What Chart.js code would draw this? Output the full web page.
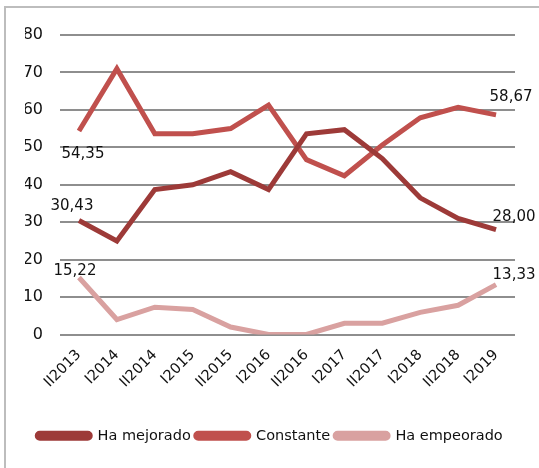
<!DOCTYPE html>
<html>
<head>
<meta charset="utf-8">
<script src="https://cdn.jsdelivr.net/npm/chart.js@4.4.1/dist/chart.umd.min.js"></script>
<style>
  html, body { margin: 0; padding: 0; background: #fff; overflow: hidden; }
  #wrap { position: relative; width: 539px; height: 468px; }
  #frame { position: absolute; left: 4px; top: 6px; width: 600px; height: 500px; border: 2px solid #bdbdbd; box-sizing: border-box; }
  canvas { position: absolute; left: 0; top: 0; }
</style>
</head>
<body>
<div id="wrap">
  <div id="frame"></div>
  <canvas id="chart" width="539" height="468"></canvas>
</div>
<script>
const periods = ['II2013', 'I2014', 'II2014', 'I2015', 'II2015', 'I2016', 'II2016', 'I2017', 'II2017', 'I2018', 'II2018', 'I2019'];
const mejorado = [30.43, 25.0, 38.7, 40.0, 43.5, 38.7, 53.6, 54.7, 47.0, 36.5, 31.0, 28.00];
const constante = [54.35, 71.0, 53.6, 53.6, 55.0, 61.3, 46.7, 42.4, 50.6, 57.9, 60.7, 58.67];
const empeorado = [15.22, 4.0, 7.3, 6.7, 2.0, 0.0, 0.0, 3.0, 3.0, 5.9, 7.8, 13.33];
const yTicks = [0, 10, 20, 30, 40, 50, 60, 70, 80];

const FONT = "'DejaVu Sans', sans-serif";

// first / last value labels, offsets in px from the point
const labelOffsets = [
    { first: [-7, -14], last: [18, -13] },
    { first: [4, 23], last: [15, -18] },
    { first: [-4, -6], last: [18, -9] }
];

const endLabels = {
    id: 'endLabels',
    afterDatasetsDraw(chart) {
        const ctx = chart.ctx;
        ctx.save();
        ctx.font = '15px ' + FONT;
        ctx.fillStyle = '#111';
        ctx.textAlign = 'center';
        ctx.textBaseline = 'middle';
        chart.data.datasets.forEach((ds, i) => {
            const pts = chart.getDatasetMeta(i).data;
            const n = ds.data.length - 1;
            const off = labelOffsets[i];
            const fmt = v => v.toFixed(2).replace('.', ',');
            ctx.fillText(fmt(ds.data[0]), pts[0].x + off.first[0], pts[0].y + off.first[1]);
            ctx.fillText(fmt(ds.data[n]), pts[n].x + off.last[0], pts[n].y + off.last[1]);
        });
        ctx.restore();
    }
};

function line(label, data, color) {
    return {
        label: label,
        data: data,
        borderColor: color,
        backgroundColor: color,
        borderWidth: 5,
        pointRadius: 0,
        fill: false,
        tension: 0
    };
}

new Chart(document.getElementById('chart'), {
    type: 'line',
    data: {
        labels: periods,
        datasets: [
            line('Ha mejorado', mejorado, '#9d3a38'),
            line('Constante', constante, '#c0504d'),
            line('Ha empeorado', empeorado, '#d9a1a0')
        ]
    },
    options: {
        responsive: false,
        animation: false,
        layout: { padding: { left: 25, right: 24, top: 35, bottom: 15 } },
        plugins: {
            tooltip: { enabled: false },
            legend: {
                position: 'bottom',
                labels: {
                    color: '#111',
                    font: { family: FONT, size: 14.5 },
                    boxWidth: 53,
                    boxHeight: 5,
                    padding: 5,
                    useBorderRadius: true,
                    borderRadius: 2.5
                }
            }
        },
        scales: {
            x: {
                offset: true,
                grid: { display: false },
                border: { display: false },
                ticks: {
                    color: '#111',
                    font: { family: FONT, size: 14.5 },
                    maxRotation: 45,
                    minRotation: 45,
                    autoSkip: false,
                    padding: 4
                },
                afterFit(scale) { scale.height = 89; }
            },
            y: {
                min: 0,
                max: 80,
                afterBuildTicks(scale) { scale.ticks = yTicks.map(v => ({ value: v })); },
                grid: { color: '#8e8e8e', lineWidth: 2, drawTicks: false },
                border: { display: false },
                ticks: {
                    color: '#111',
                    font: { family: FONT, size: 16 },
                    padding: 17
                },
                afterFit(scale) { scale.width = 35; }
            }
        }
    },
    plugins: [endLabels]
});
</script>
</body>
</html>
